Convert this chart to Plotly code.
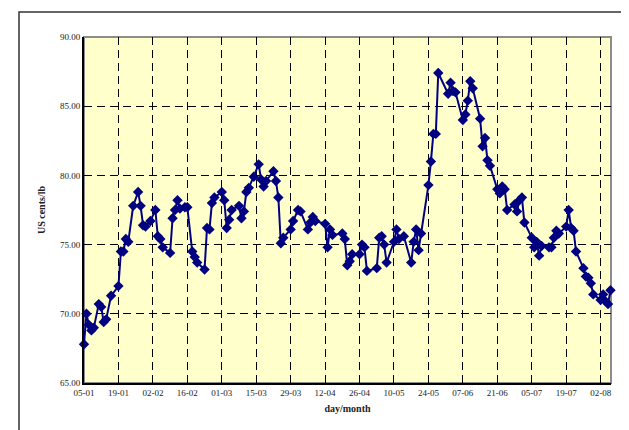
import plotly.graph_objects as go

dates = [
    "2004-01-05", "2004-01-06", "2004-01-07", "2004-01-08", "2004-01-09", "2004-01-11", "2004-01-12",
    "2004-01-13", "2004-01-14", "2004-01-16", "2004-01-19", "2004-01-20", "2004-01-21", "2004-01-22",
    "2004-01-23", "2004-01-25", "2004-01-27", "2004-01-28", "2004-01-29", "2004-01-30", "2004-02-01",
    "2004-02-03", "2004-02-04", "2004-02-05", "2004-02-06", "2004-02-09", "2004-02-10", "2004-02-11",
    "2004-02-12", "2004-02-13", "2004-02-15", "2004-02-16", "2004-02-18", "2004-02-19", "2004-02-20",
    "2004-02-23", "2004-02-24", "2004-02-25", "2004-02-26", "2004-02-27", "2004-03-01", "2004-03-02",
    "2004-03-03", "2004-03-04", "2004-03-05", "2004-03-08", "2004-03-09", "2004-03-10", "2004-03-11",
    "2004-03-12", "2004-03-14", "2004-03-16", "2004-03-17", "2004-03-18", "2004-03-19", "2004-03-22",
    "2004-03-23", "2004-03-24", "2004-03-25", "2004-03-26", "2004-03-29", "2004-03-30", "2004-04-01",
    "2004-04-02", "2004-04-05", "2004-04-06", "2004-04-07", "2004-04-08", "2004-04-12", "2004-04-13",
    "2004-04-14", "2004-04-15", "2004-04-19", "2004-04-20", "2004-04-21", "2004-04-22", "2004-04-23",
    "2004-04-26", "2004-04-27", "2004-04-28", "2004-04-29", "2004-05-03", "2004-05-04", "2004-05-05",
    "2004-05-06", "2004-05-07", "2004-05-10", "2004-05-11", "2004-05-12", "2004-05-14", "2004-05-17",
    "2004-05-18", "2004-05-19", "2004-05-20", "2004-05-21", "2004-05-24", "2004-05-25", "2004-05-26",
    "2004-05-27", "2004-05-28", "2004-06-01", "2004-06-02", "2004-06-03", "2004-06-04", "2004-06-07",
    "2004-06-08", "2004-06-09", "2004-06-10", "2004-06-11", "2004-06-14", "2004-06-15", "2004-06-16",
    "2004-06-17", "2004-06-18", "2004-06-21", "2004-06-22", "2004-06-23", "2004-06-24", "2004-06-25",
    "2004-06-28", "2004-06-29", "2004-06-30", "2004-07-01", "2004-07-02", "2004-07-05", "2004-07-06",
    "2004-07-07", "2004-07-08", "2004-07-09", "2004-07-12", "2004-07-13", "2004-07-14", "2004-07-15",
    "2004-07-16", "2004-07-19", "2004-07-20", "2004-07-21", "2004-07-22", "2004-07-23", "2004-07-26",
    "2004-07-27", "2004-07-28", "2004-07-29", "2004-07-30", "2004-08-02", "2004-08-03", "2004-08-04",
    "2004-08-05", "2004-08-06",
]

prices = [
    67.8, 70.0, 69.2, 68.8, 69.0, 70.7, 70.5,
    69.4, 69.6, 71.3, 72.0, 74.5, 74.5, 75.4,
    75.2, 77.8, 78.8, 77.8, 76.4, 76.3, 76.7,
    77.5, 75.6, 75.4, 74.8, 74.4, 76.9, 77.5,
    78.2, 77.6, 77.7, 77.7, 74.5, 74.1, 73.7,
    73.2, 76.2, 76.1, 78.0, 78.4, 78.8, 78.2,
    76.2, 76.8, 77.5, 77.8, 76.9, 77.4, 78.8,
    79.1, 79.9, 80.8, 79.7, 79.2, 79.6, 80.3,
    79.6, 78.4, 75.1, 75.5, 76.1, 76.7, 77.5,
    77.4, 76.1, 76.6, 77.0, 76.7, 76.5, 74.8,
    76.1, 75.7, 75.8, 75.4, 73.5, 73.8, 74.3,
    74.3, 75.0, 74.8, 73.1, 73.3, 75.5, 75.6,
    75.0, 73.7, 75.2, 76.1, 75.4, 75.6, 73.7,
    75.2, 76.1, 74.6, 75.8, 79.3, 81.0, 83.0,
    83.0, 87.4, 85.9, 86.7, 86.1, 86.0, 84.0,
    84.4, 85.4, 86.8, 86.3, 84.1, 82.1, 82.7,
    81.1, 80.7, 79.0, 78.7, 79.2, 79.0, 77.5,
    77.9, 77.4, 78.2, 78.4, 76.6, 75.5, 74.8,
    75.2, 74.2, 74.9, 74.8, 74.8, 75.5, 76.0,
    75.8, 76.3, 77.5, 76.2, 76.0, 74.5, 73.3,
    72.7, 72.6, 72.2, 71.4, 71.0, 71.4, 70.9,
    70.7, 71.7,
]

x_title = "day/month"
y_title = "US cents/lb"
x_start = "2004-01-05"
x_end = "2004-08-06 05:00"
y_min, y_max = 65, 90

navy = "#000080"
font_family = "Liberation Serif, Times New Roman, serif"

fig = go.Figure()
fig.add_trace(go.Scatter(
    x=dates, y=prices, mode="lines+markers",
    line=dict(color=navy, width=2),
    marker=dict(symbol="diamond", size=8, color=navy),
    cliponaxis=False,
    showlegend=False,
))

fig.update_layout(
    width=629, height=430,
    margin=dict(l=76, r=26, t=29, b=55),
    paper_bgcolor="white",
    plot_bgcolor="#FFFFCC",
    font=dict(family=font_family, size=9, color="#222222"),
    xaxis=dict(
        type="date",
        range=[x_start, x_end],
        tick0=x_start, dtick=14 * 86400000,
        tickformat="%d-%m",
        ticks="inside", ticklen=5, tickcolor="black", tickwidth=1,
        showgrid=True, gridcolor="black", gridwidth=1, griddash="8px,5px",
        showline=True, linecolor="black", linewidth=2,
        zeroline=False,
        tickfont=dict(size=9, family=font_family, color="#222222"),
        title=dict(text="<b>day/month</b>", font=dict(size=10, family=font_family, color="#222222"), standoff=8),
    ),
    yaxis=dict(
        range=[y_min, y_max],
        dtick=5, tickformat=".2f",
        ticks="", 
        showgrid=True, gridcolor="black", gridwidth=1, griddash="8px,5px",
        showline=True, linecolor="black", linewidth=2,
        zeroline=False,
        tickfont=dict(size=9, family=font_family, color="#222222"),
        title=dict(text="<b>US cents/lb</b>", font=dict(size=10, family=font_family, color="#222222"), standoff=12),
    ),
    shapes=[
        dict(type="rect", xref="paper", yref="paper",
             x0=0, x1=1, y0=0, y1=1,
             line=dict(color="#8c8c8c", width=2), layer="below"),
        dict(type="rect", xref="paper", yref="paper",
             x0=(11 - 76) / 527, x1=(628 - 76) / 527,
             y0=-0.25, y1=(375 - 4) / 346,
             line=dict(color="#333333", width=1.5), layer="below"),
    ],
)

fig.write_html("out.html")
